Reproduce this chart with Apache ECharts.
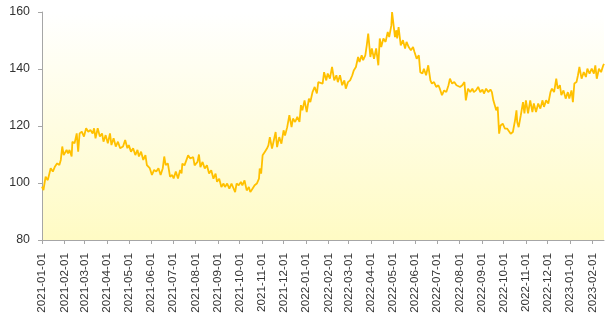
<!DOCTYPE html>
<html>
<head>
<meta charset="utf-8">
<script src="https://cdn.jsdelivr.net/npm/echarts@6/dist/echarts.min.js"></script>
<style>
html,body{margin:0;padding:0;background:#fff;}
#chart{width:606px;height:334px;}
</style>
</head>
<body>
<div id="chart"></div>
<script>
const dates = [
'2021-01-01','2021-01-03','2021-01-06','2021-01-09','2021-01-13','2021-01-16','2021-01-19','2021-01-22','2021-01-25','2021-01-27','2021-01-29','2021-01-31',
'2021-02-04','2021-02-06','2021-02-08','2021-02-11','2021-02-12','2021-02-15','2021-02-18','2021-02-20','2021-02-22','2021-02-25','2021-02-28',
'2021-03-03','2021-03-06','2021-03-09','2021-03-12','2021-03-14','2021-03-16','2021-03-19','2021-03-22','2021-03-25','2021-03-27','2021-03-30',
'2021-04-02','2021-04-05','2021-04-07','2021-04-10','2021-04-13','2021-04-16','2021-04-19','2021-04-23','2021-04-26','2021-04-29',
'2021-05-01','2021-05-04','2021-05-07','2021-05-10','2021-05-13','2021-05-15','2021-05-18','2021-05-21','2021-05-24','2021-05-26','2021-05-30',
'2021-06-02','2021-06-05','2021-06-08','2021-06-11','2021-06-14','2021-06-17','2021-06-19','2021-06-21','2021-06-24','2021-06-27','2021-06-30',
'2021-07-02','2021-07-05','2021-07-08','2021-07-11','2021-07-13','2021-07-14','2021-07-17','2021-07-22','2021-07-25','2021-07-29','2021-07-31',
'2021-08-04','2021-08-06','2021-08-08','2021-08-11','2021-08-14','2021-08-17','2021-08-20','2021-08-23','2021-08-26','2021-08-29','2021-08-31',
'2021-09-03','2021-09-06','2021-09-09','2021-09-11','2021-09-14','2021-09-17','2021-09-20','2021-09-22','2021-09-25','2021-09-27','2021-09-30',
'2021-10-03','2021-10-05','2021-10-08','2021-10-11','2021-10-14','2021-10-16','2021-10-19','2021-10-22','2021-10-25','2021-10-28','2021-10-29','2021-10-31',
'2021-11-02','2021-11-05','2021-11-08','2021-11-10','2021-11-12','2021-11-15','2021-11-17','2021-11-20','2021-11-22','2021-11-25','2021-11-28',
'2021-12-01','2021-12-03','2021-12-06','2021-12-09','2021-12-12','2021-12-14','2021-12-17','2021-12-20','2021-12-23','2021-12-25','2021-12-27','2021-12-30',
'2022-01-02','2022-01-05','2022-01-07','2022-01-10','2022-01-13','2022-01-16','2022-01-18','2022-01-20','2022-01-24','2022-01-26','2022-01-29','2022-01-31',
'2022-02-03','2022-02-06','2022-02-09','2022-02-12','2022-02-14','2022-02-17','2022-02-20','2022-02-23','2022-02-25','2022-02-28',
'2022-03-03','2022-03-06','2022-03-08','2022-03-11','2022-03-14','2022-03-16','2022-03-19','2022-03-21','2022-03-24','2022-03-26','2022-03-28','2022-03-31',
'2022-04-02','2022-04-05','2022-04-08','2022-04-11','2022-04-13','2022-04-15','2022-04-18','2022-04-21','2022-04-24','2022-04-26','2022-04-29','2022-04-30',
'2022-05-02','2022-05-04','2022-05-06','2022-05-07','2022-05-09','2022-05-12','2022-05-15','2022-05-18','2022-05-20','2022-05-23','2022-05-26','2022-05-29','2022-05-31',
'2022-06-03','2022-06-06','2022-06-08','2022-06-11','2022-06-13','2022-06-16','2022-06-19','2022-06-22','2022-06-24','2022-06-27','2022-06-30',
'2022-07-03','2022-07-05','2022-07-08','2022-07-11','2022-07-14','2022-07-17','2022-07-19','2022-07-22','2022-07-25','2022-07-28','2022-07-30',
'2022-08-02','2022-08-05','2022-08-08','2022-08-10','2022-08-13','2022-08-16','2022-08-19','2022-08-21','2022-08-24','2022-08-27','2022-08-30',
'2022-09-02','2022-09-04','2022-09-07','2022-09-10','2022-09-13','2022-09-15','2022-09-17','2022-09-19','2022-09-21','2022-09-23','2022-09-25','2022-09-27','2022-09-30',
'2022-10-03','2022-10-06','2022-10-08','2022-10-11','2022-10-14','2022-10-17','2022-10-19','2022-10-20','2022-10-22','2022-10-25','2022-10-28','2022-10-30',
'2022-11-01','2022-11-04','2022-11-07','2022-11-10','2022-11-12','2022-11-15','2022-11-18','2022-11-21','2022-11-24','2022-11-26','2022-11-29',
'2022-12-02','2022-12-05','2022-12-07','2022-12-10','2022-12-13','2022-12-15','2022-12-18','2022-12-20','2022-12-23','2022-12-26','2022-12-29','2022-12-31',
'2023-01-03','2023-01-05','2023-01-07','2023-01-10','2023-01-12','2023-01-14','2023-01-17','2023-01-20','2023-01-23','2023-01-25','2023-01-28','2023-01-31',
'2023-02-03','2023-02-05','2023-02-07','2023-02-10','2023-02-13','2023-02-16','2023-02-17'
];
const values = [
98.7,97.5,102.2,101,105.2,104,105.8,106.9,106.3,108.1,112.8,109.8,
111.6,110.4,111.6,109.3,114.5,113.9,117.4,111,117.4,118,116.3,
119.2,118,118.6,117.4,119.2,115.7,119.2,116.3,117.4,114.5,116.8,
113.9,117.4,113.3,115.7,112.8,114.5,112.2,112.8,115.1,112.2,
113.3,111,112.2,109.8,111.6,109.3,111,108.1,109.8,106.3,105.2,
102.8,104.6,104,105.2,102.8,105.2,109.3,106.3,106.9,102.2,102.8,
101.6,104,101.6,104.6,103.4,106.8,106.2,109.7,108.6,109.1,106.2,
107.4,110,105.6,107.4,105.1,106.2,103.3,104.5,101.5,103.3,100.4,
101.5,98.6,99.8,98.6,99.8,98,99.8,98.6,96.8,99.8,99.2,
100.4,99.2,100.9,97.4,98.6,96.8,98,99.2,99.8,101.5,105.1,103.3,
109.7,110.9,112.1,113.2,116.1,112.1,114.4,117.9,112.6,116.1,113.8,
118.5,116.7,119.6,123.8,119.6,122.6,121.4,123.2,121.4,127.3,125.5,129,
124.9,129.6,128.4,131.9,133.7,131.4,135.4,136,134.9,138.9,136,138.4,
136.6,140.7,136,137.8,135.4,137.8,134.3,136,133.1,135.4,
136,137.8,139.5,140.7,144.2,142.5,144.8,143.1,144.8,148.3,152.4,144.2,
147.2,143.6,147.2,141.3,150.7,147.7,150.7,149.5,153,151.2,155.3,160,
160,151.2,153.6,150.7,154.7,148.3,150.1,147.2,149.5,147.7,146.6,147.7,146,
143.6,144.8,138.9,138.4,140.1,137.8,141.3,136,134.9,135.4,133.7,
134.3,133.1,130.8,132.5,131.9,134.3,136.6,134.9,135.4,134.3,134.9,
133.7,134.3,135.4,129,133.1,131.9,133.1,131.9,132.5,133.7,131.9,
132.8,131.4,133.1,131.9,132.8,131.9,129,129.6,125.5,126.7,117.3,120.2,120.8,
119.1,119.1,119.1,117.3,117.9,122,125.5,121.4,119.6,123.8,128.4,124.4,
129,124.4,129,124.9,127.9,124.9,127.9,126.1,129,126.7,129,
127.9,131.9,133.1,131.9,136.6,133.1,134.3,130.8,132.5,129.6,131.9,129.6,
132.5,128.4,134.9,135.4,137.8,140.7,136.6,138.9,137.2,140.1,138.4,140.1,
138.4,141.3,136.6,140.1,138.9,141.3,141.8
];
const monthTicks = [
'2021-01-01','2021-02-01','2021-03-01','2021-04-01','2021-05-01','2021-06-01','2021-07-01','2021-08-01','2021-09-01','2021-10-01','2021-11-01','2021-12-01',
'2022-01-01','2022-02-01','2022-03-01','2022-04-01','2022-05-01','2022-06-01','2022-07-01','2022-08-01','2022-09-01','2022-10-01','2022-11-01','2022-12-01',
'2023-01-01','2023-02-01'
];
const axisStart = '2021-01-01';
const axisEnd = '2023-02-17';
const yTicks = [80, 100, 120, 140, 160];

function toTs(s){ const p = s.split('-').map(Number); return Date.UTC(p[0], p[1]-1, p[2]); }
function fmt(ts){ const d = new Date(ts); const m = d.getUTCMonth()+1, dd = d.getUTCDate(); return d.getUTCFullYear()+'-'+(m<10?'0':'')+m+'-'+(dd<10?'0':'')+dd; }

const chart = echarts.init(document.getElementById('chart'), null, {renderer:'canvas'});
const tickTs = monthTicks.map(toTs);
chart.setOption({
  animation: false,
  backgroundColor: '#ffffff',
  grid: {
    left: 42, right: 2, top: 12, bottom: 94, containLabel: false,
    show: true, borderWidth: 0,
    backgroundColor: new echarts.graphic.LinearGradient(0,0,0,1,[
      {offset:0,color:'#ffffff'},{offset:1,color:'#fffbc4'}
    ])
  },
  xAxis: {
    type: 'value',
    min: toTs(axisStart), max: toTs(axisEnd),
    axisLine: {show:true, onZero:false, lineStyle:{color:'#a6a6a6', width:1}},
    axisTick: {show:true, length:4, lineStyle:{color:'#a6a6a6'}, customValues: tickTs},
    splitLine: {show:false},
    axisLabel: {
      customValues: tickTs,
      rotate: 90, margin: 13,
      showMinLabel: true, showMaxLabel: true, hideOverlap: false,
      color: '#333333', fontSize: 11.7, fontFamily: 'Liberation Sans, Arial, sans-serif',
      formatter: function(v){ return fmt(v); }
    }
  },
  yAxis: {
    type: 'value', min: yTicks[0], max: yTicks[yTicks.length-1], interval: 20,
    axisLine: {show:true, lineStyle:{color:'#a6a6a6', width:1}},
    axisTick: {show:true, length:4, lineStyle:{color:'#a6a6a6'}},
    splitLine: {show:false},
    axisLabel: {margin: 12, color:'#333333', fontSize: 12.4, fontFamily: 'Liberation Sans, Arial, sans-serif'}
  },
  series: [{
    type: 'line',
    data: dates.map(function(d,i){ return [toTs(d), values[i]]; }),
    showSymbol: false,
    symbol: 'none',
    lineStyle: {color:'#ffc000', width:1.8},
    itemStyle: {color:'#ffc000'},
    clip: true
  }]
});
</script>
</body>
</html>
